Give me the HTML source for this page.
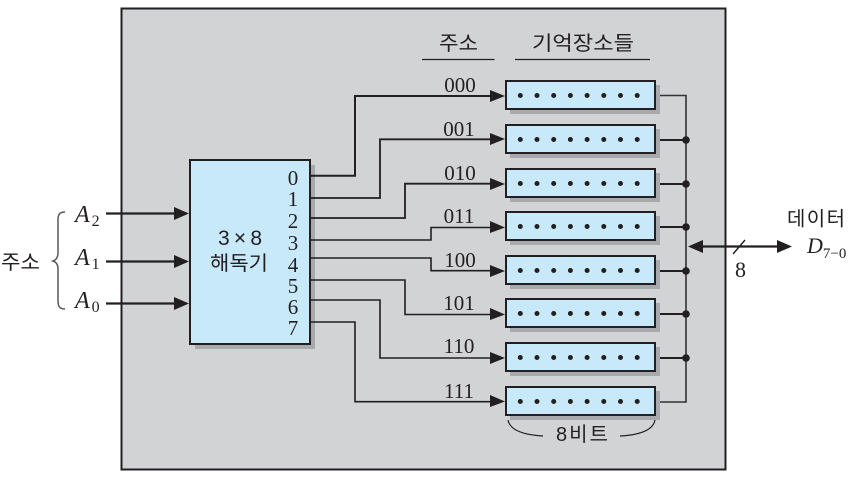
<!DOCTYPE html>
<html><head><meta charset="utf-8"><style>
html,body{margin:0;padding:0;background:#fff;width:859px;height:482px;overflow:hidden}
svg{display:block}
.k{font-family:"Liberation Sans","Noto Sans CJK KR",sans-serif;fill:#231f20}
.n{font-family:"Liberation Serif",serif;fill:#231f20;font-size:21px}
.i{font-family:"Liberation Serif",serif;font-style:italic;fill:#231f20}
</style></head><body>
<svg width="859" height="482" viewBox="0 0 859 482" xmlns="http://www.w3.org/2000/svg">
<rect x="121.500" y="8.500" width="604" height="461" fill="#d1d3d4" stroke="#231f20" stroke-width="2"/>
<rect x="195" y="165" width="120" height="184" fill="#a7a9ac"/>
<rect x="190" y="160" width="120" height="184" fill="#c7e9fa" stroke="#231f20" stroke-width="2"/>
<g fill="none" stroke="#231f20" stroke-width="1.600">
<path d="M310 175.700H355V96H495" stroke-width="2"/>
<path d="M310 198H380V139.300H495" stroke-width="1.800"/>
<path d="M310 218H405V183.700H495" stroke-width="1.800"/>
<path d="M310 240H431V227.500H495"/>
<path d="M310 258H431V270.700H495"/>
<path d="M310 280H405V314.500H495"/>
<path d="M310 300H380V358H495"/>
<path d="M310 322H355V401.700H495"/>
<path d="M655 95.500H686V402H655" stroke="#333"/>
</g>
<g fill="#231f20">
<path d="M490 90V102L505 96Z"/><path d="M490 133V145L505 139Z"/><path d="M490 178V190L505 184Z"/><path d="M490 221V233L505 227.500Z"/>
<path d="M490 265V277L505 271Z"/><path d="M490 308V320L505 314.500Z"/><path d="M490 352V364L505 358Z"/><path d="M490 395V407L505 401.500Z"/>
<circle cx="686" cy="140" r="3.800"/><circle cx="686" cy="184" r="3.800"/><circle cx="686" cy="227" r="3.800"/><circle cx="686" cy="271" r="3.800"/><circle cx="686" cy="314" r="3.800"/><circle cx="686" cy="358" r="3.800"/>
</g>
<g stroke="#231f20" stroke-width="2" fill="none"><path d="M655 140H686M655 184H686M655 227H686M655 271H686M655 314H686M655 358H686"/></g>
<g>
<rect x="510" y="85" width="150" height="29" fill="#a7a9ac"/><rect x="506" y="81" width="149" height="28" fill="#c7e9fa" stroke="#231f20" stroke-width="2"/>
<rect x="510" y="129" width="150" height="29" fill="#a7a9ac"/><rect x="506" y="125" width="149" height="28" fill="#c7e9fa" stroke="#231f20" stroke-width="2"/>
<rect x="510" y="173" width="150" height="29" fill="#a7a9ac"/><rect x="506" y="169" width="149" height="28" fill="#c7e9fa" stroke="#231f20" stroke-width="2"/>
<rect x="510" y="216" width="150" height="29" fill="#a7a9ac"/><rect x="506" y="212" width="149" height="28" fill="#c7e9fa" stroke="#231f20" stroke-width="2"/>
<rect x="510" y="260" width="150" height="29" fill="#a7a9ac"/><rect x="506" y="256" width="149" height="28" fill="#c7e9fa" stroke="#231f20" stroke-width="2"/>
<rect x="510" y="303" width="150" height="29" fill="#a7a9ac"/><rect x="506" y="299" width="149" height="28" fill="#c7e9fa" stroke="#231f20" stroke-width="2"/>
<rect x="510" y="347" width="150" height="29" fill="#a7a9ac"/><rect x="506" y="343" width="149" height="28" fill="#c7e9fa" stroke="#231f20" stroke-width="2"/>
<rect x="510" y="391" width="150" height="29" fill="#a7a9ac"/><rect x="506" y="387" width="149" height="28" fill="#c7e9fa" stroke="#231f20" stroke-width="2"/>
</g>
<g stroke="#231f20" stroke-width="5" stroke-linecap="round" stroke-dasharray="0 16.700" fill="none">
<path d="M520.300 95.500H640"/><path d="M520.300 139.500H640"/><path d="M520.300 183.500H640"/><path d="M520.300 226.500H640"/><path d="M520.300 270.500H640"/><path d="M520.300 313.500H640"/><path d="M520.300 357.500H640"/><path d="M520.300 401.500H640"/>
</g>
<g class="n" text-anchor="middle">
<text x="460" y="92">000</text><text x="459" y="136">001</text><text x="460" y="180">010</text><text x="459" y="223">011</text><text x="460" y="267">100</text><text x="459" y="310">101</text><text x="459" y="353">110</text><text x="459" y="398">111</text>
<text x="293" y="185">0</text><text x="293" y="206">1</text><text x="293" y="228">2</text><text x="293" y="250">3</text><text x="293" y="272">4</text><text x="293" y="293">5</text><text x="293" y="314">6</text><text x="293" y="335">7</text>
<text x="740.500" y="277" font-size="22">8</text>
</g>
<g class="k" font-size="20">
<text x="439" y="50" textLength="39" lengthAdjust="spacingAndGlyphs">주소</text>
<text x="532" y="50" textLength="102" lengthAdjust="spacingAndGlyphs">기억장소들</text>
<text x="218" y="245" font-size="21" textLength="44" lengthAdjust="spacing">3×8</text>
<text x="210" y="270" textLength="58" lengthAdjust="spacingAndGlyphs">해독기</text>
<text x="787" y="225.500" textLength="58" lengthAdjust="spacing">데이터</text>
<text x="1" y="269" textLength="39" lengthAdjust="spacingAndGlyphs">주소</text>
<text x="556" y="441" textLength="52" lengthAdjust="spacing">8비트</text>
</g>
<g stroke="#231f20" stroke-width="1.200" fill="none">
<path d="M422 59.500H494.500M515 59.500H650"/>
<path d="M508 420C510 431 525 435 543 436M655 420C653 431 638 435 620 436"/>
<path d="M65 212C59 212 58 215 58 220V253C58 258 56 260 53 261C56 262 58 264 58 269V300C58 306 59 309 65 309" stroke-width="1.500" stroke="#58595b"/>
<path d="M733 254L745 240" stroke-width="1.400"/>
</g>
<g stroke="#231f20" stroke-width="2.200" fill="none">
<path d="M106 213.500H178M106 261.500H178M106 303.500H178"/>
<path d="M695 246.500H785"/>
</g>
<g fill="#231f20">
<path d="M174 207V220L189 213.500Z"/><path d="M174 255V268L189 261.500Z"/><path d="M174 297V310L189 303.500Z"/>
<path d="M688 246.500L703 240V253Z"/><path d="M792 246.500L777 240V253Z"/>
</g>
<g class="i" font-size="24">
<text x="75" y="222">A<tspan font-size="16" font-style="normal" dy="4" dx="2">2</tspan></text>
<text x="75" y="265">A<tspan font-size="16" font-style="normal" dy="4" dx="2">1</tspan></text>
<text x="75" y="308">A<tspan font-size="16" font-style="normal" dy="4" dx="2">0</tspan></text>
<text x="807" y="253" font-size="22">D<tspan font-size="15" font-style="normal" dy="5">7−0</tspan></text>
</g>
</svg>
</body></html>
